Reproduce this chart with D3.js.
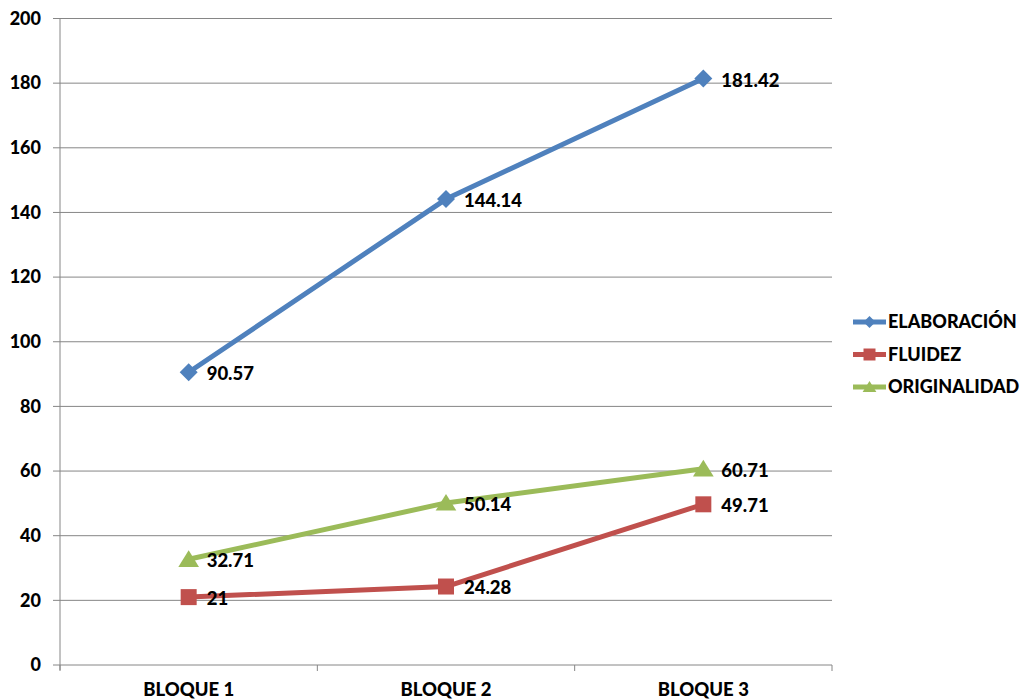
<!DOCTYPE html>
<html><head><meta charset="utf-8">
<script src="https://cdn.jsdelivr.net/npm/d3@7"></script>
<style>body{margin:0;background:#fff}svg{display:block}text{font-family:Lato,"Liberation Sans",sans-serif;font-weight:900;fill:#000}</style>
</head><body>
<svg id="c" width="1024" height="700"></svg>
<script>
const categories = ["BLOQUE 1","BLOQUE 2","BLOQUE 3"];
const seriesNames = ["ELABORACIÓN","FLUIDEZ","ORIGINALIDAD"];
const elaboracion = [90.57,144.14,181.42];
const fluidez = [21,24.28,49.71];
const originalidad = [32.71,50.14,60.71];
const labelsElab = ["90.57","144.14","181.42"];
const labelsFlu = ["21","24.28","49.71"];
const labelsOri = ["32.71","50.14","60.71"];
const yTicks = [0,20,40,60,80,100,120,140,160,180,200];

const colors = ["#4F81BD","#C0504D","#9BBB59"];
// marker shapes (path generators relative to centre, scaled by s)
const markers = [
  s=>`M0,${-s}L${s},0L0,${s}L${-s},0Z`,
  s=>`M${-s},${-s}H${s}V${s}H${-s}Z`,
  s=>`M0,${-s}L${s*1.15},${s*0.85}H${-s*1.15}Z`
];
const series = [
  {name:seriesNames[0], values:elaboracion, labels:labelsElab},
  {name:seriesNames[1], values:fluidez, labels:labelsFlu},
  {name:seriesNames[2], values:originalidad, labels:labelsOri}
];

const svg = d3.select("#c");
const L=60,R=832,T=18.5,B=665;
const x = d3.scaleBand().domain(categories).range([L,R]);
const y = d3.scaleLinear().domain([0,200]).range([B,T]);

svg.append("g").selectAll("line").data(yTicks).join("line")
  .attr("x1",L-7).attr("x2",R).attr("y1",d=>y(d)).attr("y2",d=>y(d))
  .attr("stroke","#868686").attr("stroke-width",1);
svg.append("line").attr("x1",L).attr("x2",L).attr("y1",T).attr("y2",B+5).attr("stroke","#868686");
const bounds=[L, ...categories.slice(1).map(c=>x(c)), R];
svg.append("g").selectAll("line").data(bounds).join("line")
  .attr("x1",d=>d).attr("x2",d=>d).attr("y1",B).attr("y2",B+6).attr("stroke","#868686");
svg.append("g").selectAll("text").data(yTicks).join("text")
  .attr("x",41).attr("y",d=>y(d)).attr("dy","0.35em").attr("text-anchor","end")
  .style("font-size","18px").text(d=>d);
svg.append("g").selectAll("text").data(categories).join("text")
  .attr("x",d=>x(d)+x.bandwidth()/2).attr("y",690).attr("dy","0.35em").attr("text-anchor","middle")
  .style("font-size","18.5px").text(d=>d);

const cx = c=>x(c)+x.bandwidth()/2;
const line = d3.line().x((d,i)=>cx(categories[i])).y(d=>y(d));
const msz=[9,8,9];
series.forEach((s,k)=>{
  const g=svg.append("g");
  g.append("path").datum(s.values).attr("d",line).attr("fill","none")
    .attr("stroke",colors[k]).attr("stroke-width",5).attr("stroke-linejoin","round");
  g.selectAll("path.m").data(s.values).join("path").attr("class","m")
    .attr("transform",(d,i)=>`translate(${cx(categories[i])},${y(d)})`)
    .attr("d",markers[k](msz[k])).attr("fill",colors[k]);
  g.selectAll("text").data(s.values).join("text")
    .attr("x",(d,i)=>cx(categories[i])+18).attr("y",d=>y(d)+1.5).attr("dy","0.35em")
    .style("font-size","18.5px").text((d,i)=>s.labels[i]);
});

const lg=svg.append("g");
series.forEach((s,k)=>{
  const yy=322+k*32.5;
  lg.append("line").attr("x1",853).attr("x2",886).attr("y1",yy).attr("y2",yy)
    .attr("stroke",colors[k]).attr("stroke-width",5);
  lg.append("path").attr("transform",`translate(869.5,${yy})`)
    .attr("d",markers[k](6)).attr("fill",colors[k]);
  lg.append("text").attr("x",888).attr("y",yy).attr("dy","0.35em")
    .style("font-size","18px").text(s.name);
});
</script>
</body></html>
